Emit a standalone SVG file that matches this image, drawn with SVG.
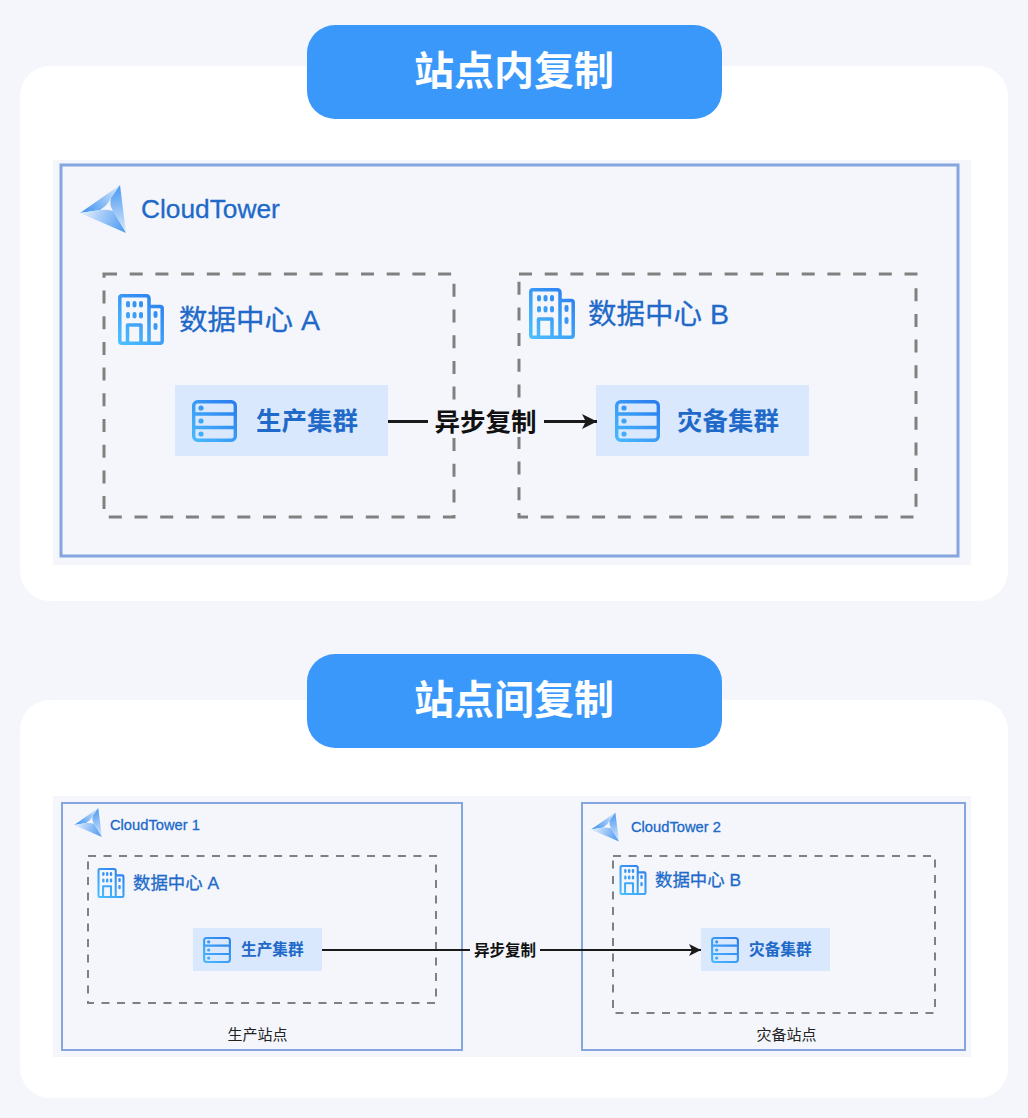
<svg xmlns="http://www.w3.org/2000/svg" xmlns:xlink="http://www.w3.org/1999/xlink" width="1028" height="1118" viewBox="0 0 1028 1118">
<style>
text{font-family:"Liberation Sans","Noto Sans CJK SC",sans-serif}
.page{fill:#f4f6fb}
.card{fill:#fff}
.pill{fill:#3b98fb}
.title{font-size:40px;font-weight:700;fill:#fff;text-anchor:middle}
.frame{fill:none;stroke:#84a5de}
.dash{fill:none;stroke:#808080}
.cluster{fill:#d9e8fd}
.blue{fill:#2069c9;stroke:#2069c9;stroke-width:.3px}
.strong{font-weight:700;stroke:none}
.conn{stroke:#1a1a1a;fill:none}
.lbl{font-weight:700;fill:#111;text-anchor:middle}
.site{font-size:15px;fill:#222;text-anchor:middle}
.ic{fill:none;stroke:url(#g)}
.icf{fill:url(#g)}
</style>
<defs>
<linearGradient id="g" gradientUnits="userSpaceOnUse" x1="44" y1="2" x2="2" y2="50"><stop offset="0" stop-color="#2a7cee"/><stop offset="1" stop-color="#4cc0ff"/></linearGradient>
<linearGradient id="b1" gradientUnits="userSpaceOnUse" x1="8" y1="27" x2="40" y2="2"><stop offset="0" stop-color="#4f9bf2"/><stop offset="1" stop-color="#d9e9fc"/></linearGradient>
<linearGradient id="b2" gradientUnits="userSpaceOnUse" x1="40" y1="2" x2="46" y2="46"><stop offset="0" stop-color="#4f9bf2"/><stop offset="1" stop-color="#d6e8fc"/></linearGradient>
<linearGradient id="b3" gradientUnits="userSpaceOnUse" x1="2" y1="28" x2="44" y2="46"><stop offset="0" stop-color="#e2eefc"/><stop offset="1" stop-color="#4f9bf2"/></linearGradient>
<symbol id="logo" viewBox="0 0 46 48">
<path fill="url(#b1)" d="M40 0L0 28L20 25Q28 20 31 13Z"/>
<path fill="url(#b2)" d="M40 0L46 48L33 26Q29 20 31 13Z"/>
<path fill="url(#b3)" d="M0 28L46 48L33 26Q26 24 20 25Z"/>
</symbol>
<symbol id="bldg" viewBox="0 0 46 51">
<path class="ic" stroke-width="3.500" stroke-linejoin="round" d="M31 49.200H3.800Q1.800 49.200 1.800 47.200V3.800Q1.800 1.800 3.800 1.800H28Q31 1.800 31 4.800V49.200H42Q44.200 49.200 44.200 47V14.500Q44.200 12.500 42.200 12.500H31M9.500 49.200V31H23V49.200"/>
<g class="icf"><rect x="8" y="7" width="4" height="6.500" rx="2"/><rect x="14.500" y="7" width="4" height="6.500" rx="2"/><rect x="21" y="7" width="4" height="6.500" rx="2"/><rect x="8" y="18" width="4" height="6.500" rx="2"/><rect x="14.500" y="18" width="4" height="6.500" rx="2"/><rect x="21" y="18" width="4" height="6.500" rx="2"/><rect x="35.500" y="17" width="4" height="7" rx="2"/><rect x="35.500" y="29" width="4" height="7" rx="2"/></g>
</symbol>
<symbol id="srv" viewBox="0 0 45 42">
<rect class="ic" x="1.700" y="1.700" width="41.600" height="38.600" rx="4" stroke-width="3.400"/>
<path class="ic" stroke-width="3.400" d="M1.700 14H43.300M1.700 27.500H43.300"/>
<g class="icf"><circle cx="9" cy="8" r="2.600"/><circle cx="9" cy="21" r="2.600"/><circle cx="9" cy="34" r="2.600"/></g>
</symbol>
<marker id="ah" markerUnits="userSpaceOnUse" viewBox="0 0 12 12" refX="12" refY="6" markerWidth="12" markerHeight="12" orient="auto"><path d="M0 0L12 6L0 12L3 6Z" fill="#1a1a1a"/></marker>
<marker id="ahb" markerUnits="userSpaceOnUse" viewBox="0 0 12 12" refX="12" refY="6" markerWidth="15" markerHeight="15" orient="auto"><path d="M0 0L12 6L0 12L3 6Z" fill="#1a1a1a"/></marker>
</defs>
<rect class="page" width="1028" height="1118"/>
<g id="section-1">
<rect class="card" x="20" y="66" width="988" height="535" rx="30"/>
<rect class="page" x="53" y="160" width="918" height="405"/>
<rect class="pill" x="307" y="25" width="415" height="94" rx="28"/>
<text class="title" x="514" y="85">站点内复制</text>
</g>
<g id="section-2">
<rect class="card" x="20" y="700" width="988" height="398" rx="30"/>
<rect class="page" x="53" y="796" width="918" height="261"/>
<rect class="pill" x="307" y="654" width="415" height="94" rx="28"/>
<text class="title" x="514" y="714">站点间复制</text>
</g>
<g id="tower-a">
<rect class="frame" x="61" y="165" width="897" height="391" stroke-width="3"/>
<use xlink:href="#logo" href="#logo" x="80" y="185" width="46" height="48"/>
<text class="blue" x="141" y="218" font-size="26.300">CloudTower</text>
</g>
<g id="dc-a">
<rect class="dash" x="104" y="274" width="350" height="243" stroke-width="3" stroke-dasharray="13 12.700"/>
<use xlink:href="#bldg" href="#bldg" x="118" y="294" width="46" height="51"/>
<text class="blue" x="179" y="330" font-size="28.500">数据中心 A</text>
</g>
<g id="dc-b">
<rect class="dash" x="519" y="274" width="397" height="243" stroke-width="3" stroke-dasharray="13 12.700"/>
<use xlink:href="#bldg" href="#bldg" x="529" y="288" width="46" height="51"/>
<text class="blue" x="588" y="324" font-size="28.500">数据中心 B</text>
</g>
<g id="cluster-a">
<rect class="cluster" x="175" y="385" width="213" height="71"/>
<use xlink:href="#srv" href="#srv" x="192" y="400" width="45" height="42"/>
<text class="blue strong" x="256" y="430" font-size="25.500">生产集群</text>
</g>
<g id="cluster-b">
<rect class="cluster" x="596" y="385" width="213" height="71"/>
<use xlink:href="#srv" href="#srv" x="615" y="400" width="45" height="42"/>
<text class="blue strong" x="677" y="430" font-size="25.500">灾备集群</text>
</g>
<g id="tower-1">
<rect class="frame" x="62" y="803" width="400" height="247" stroke-width="2"/>
<use xlink:href="#logo" href="#logo" x="74" y="808" width="28" height="29"/>
<text class="blue" x="110" y="830" font-size="14.700">CloudTower 1</text>
</g>
<g id="tower-2">
<rect class="frame" x="582" y="803" width="383" height="247" stroke-width="2"/>
<use xlink:href="#logo" href="#logo" x="591" y="812" width="28" height="30"/>
<text class="blue" x="631" y="832" font-size="14.700">CloudTower 2</text>
</g>
<g id="dc-a2">
<rect class="dash" x="88" y="856" width="348" height="147" stroke-width="2" stroke-dasharray="8 7.500"/>
<use xlink:href="#bldg" href="#bldg" x="97" y="868" width="28" height="30"/>
<text class="blue" x="133" y="889" font-size="17.400">数据中心 A</text>
</g>
<g id="dc-b2">
<rect class="dash" x="613" y="856" width="322" height="157" stroke-width="2" stroke-dasharray="8 7.500"/>
<use xlink:href="#bldg" href="#bldg" x="619" y="865" width="28" height="30"/>
<text class="blue" x="655" y="886" font-size="17.400">数据中心 B</text>
</g>
<g id="cluster-a2">
<rect class="cluster" x="193" y="928" width="129" height="43"/>
<use xlink:href="#srv" href="#srv" x="203" y="937" width="28" height="26"/>
<text class="blue strong" x="241" y="955" font-size="15.700">生产集群</text>
</g>
<g id="cluster-b2">
<rect class="cluster" x="701" y="928" width="129" height="43"/>
<use xlink:href="#srv" href="#srv" x="711" y="937" width="28" height="26"/>
<text class="blue strong" x="749" y="955" font-size="15.700">灾备集群</text>
</g>
<g id="site-labels">
<text class="site" x="257.500" y="1040" font-size="15">生产站点</text>
<text class="site" x="786.500" y="1040" font-size="15">灾备站点</text>
</g>
<g id="connectors">
<rect class="page" x="429" y="408" width="112" height="29"/>
<path class="conn" stroke-width="3" d="M388 421.500H428"/>
<path class="conn" stroke-width="3" marker-end="url(#ahb)" d="M544 421.500H597"/>
<text class="lbl" x="485.500" y="431" font-size="25.500">异步复制</text>
<path class="conn" stroke-width="2" d="M322 950H470"/>
<path class="conn" stroke-width="2" marker-end="url(#ah)" d="M540 950H701"/>
<text class="lbl" x="505" y="956" font-size="15.500">异步复制</text>
</g>
</svg>
